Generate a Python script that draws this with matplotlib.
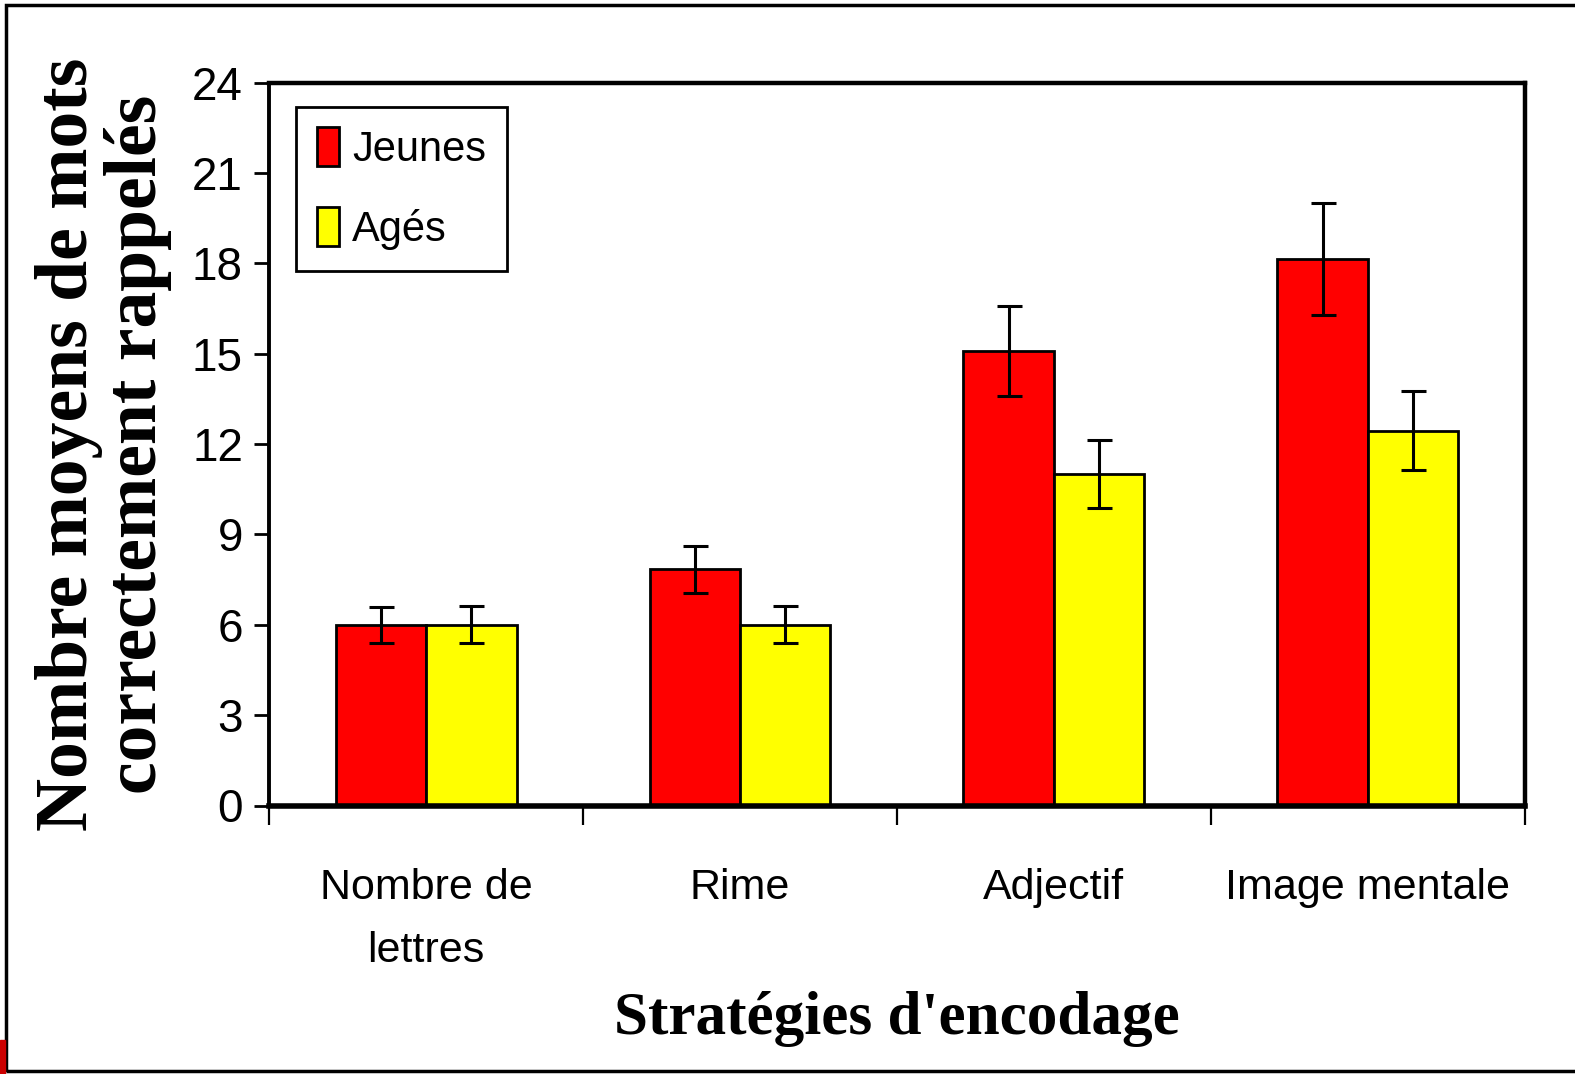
import matplotlib
matplotlib.use("Agg")
import matplotlib.pyplot as plt
import numpy as np
from matplotlib.patches import Rectangle

# Data
categories = ["Nombre de\nlettres", "Rime", "Adjectif", "Image mentale"]
jeunes = [6.0, 7.85, 15.1, 18.15]
jeunes_err = [0.6, 0.78, 1.5, 1.85]
ages = [6.0, 6.0, 11.0, 12.45]
ages_err = [0.62, 0.62, 1.13, 1.3]
yticks = [0, 3, 6, 9, 12, 15, 18, 21, 24]

sans = ["Liberation Sans", "DejaVu Sans"]
serif = ["Liberation Serif", "DejaVu Serif"]

fig = plt.figure(figsize=(15.75, 10.74), dpi=100)
ax = fig.add_axes([0.171, 0.25, 0.797, 0.673])

x = np.arange(len(categories))
w = 0.288
err_kw = dict(elinewidth=2.2, capthick=2.2, ecolor="black")
ax.bar(x - w / 2, jeunes, w, yerr=jeunes_err, color="#ff0000", edgecolor="black",
       linewidth=2, capsize=9, error_kw=err_kw, label="Jeunes", zorder=2)
ax.bar(x + w / 2, ages, w, yerr=ages_err, color="#ffff00", edgecolor="black",
       linewidth=2, capsize=9, error_kw=err_kw, label="Agés", zorder=2)

ax.set_xlim(-0.5, len(categories) - 0.5)
ax.set_ylim(0, 24)
ax.set_yticks(yticks)
ax.set_yticklabels([str(t) for t in yticks], family=sans, fontsize=33)

# ticks at category boundaries, labels at centres
ax.set_xticks(np.arange(-0.5, len(categories)), labels=[""] * (len(categories) + 1))
ax.set_xticks(x, minor=True)
ax.set_xticklabels(categories, minor=True, family=sans, fontsize=31, linespacing=1.75)
ax.tick_params(axis="x", which="major", direction="out", length=14, width=1.6)
ax.tick_params(axis="x", which="minor", length=0, pad=45)
ax.tick_params(axis="y", direction="out", length=11, width=2, pad=8)

for side in ["top", "right"]:
    ax.spines[side].set_linewidth(3.2)
ax.spines["left"].set_linewidth(2.8)
ax.spines["bottom"].set_linewidth(4)
ax.spines["bottom"].set_zorder(3)

ax.set_xlabel("Stratégies d'encodage", family=serif, fontweight="bold",
              fontsize=44, labelpad=14)
ax.set_ylabel("Nombre moyens de mots\ncorrectement rappelés", family=serif,
              fontweight="bold", fontsize=53, labelpad=14, linespacing=1.02)

leg = ax.legend(loc="upper left", bbox_to_anchor=(0.021, 0.967), fancybox=False,
                edgecolor="black", framealpha=1, prop={"family": sans, "size": 30},
                handlelength=0.55, handleheight=1.05, handletextpad=0.3,
                labelspacing=0.9, borderpad=0.5, borderaxespad=0)
leg.get_frame().set_linewidth(2)

# outer border of the figure and small red mark at bottom-left
fig.patches.append(Rectangle((0.004, 0.003), 1.0, 0.992, transform=fig.transFigure,
                             fill=False, edgecolor="black", linewidth=2.5))
fig.patches.append(Rectangle((0.0, 0.0), 0.003, 0.032, transform=fig.transFigure,
                             color="#cc0000"))

fig.savefig("out.png", dpi=100)
